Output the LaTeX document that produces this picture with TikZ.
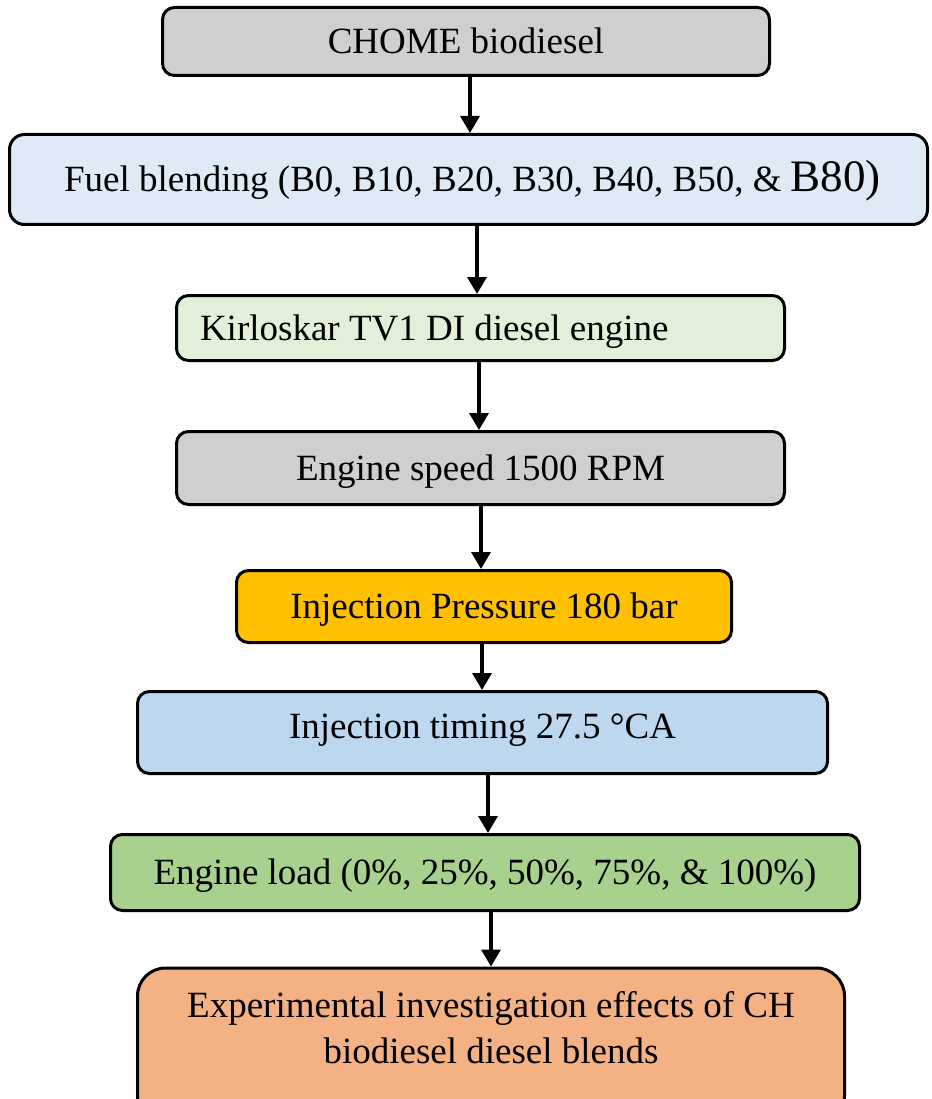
\documentclass[tikz,border=0pt]{standalone}
\usepackage{fontspec}
\setmainfont{Liberation Serif}
\usetikzlibrary{arrows.meta}
\definecolor{greyfill}{HTML}{D0CECE}
\definecolor{paleblue}{HTML}{DEEBF7}
\definecolor{palegreen}{HTML}{E2F0D9}
\definecolor{amber}{HTML}{FFC000}
\definecolor{skyblue}{HTML}{BDD7EE}
\definecolor{leafgreen}{HTML}{A9D18E}
\definecolor{salmon}{HTML}{F4B183}
\begin{document}
\begin{tikzpicture}[x=1pt,y=-1pt,
  box/.style={draw=black, line width=3pt, rounded corners=12pt,
    inner xsep=0pt, inner ysep=0pt, text depth=0pt, text height=24.5pt,
    font=\fontsize{37}{46}\selectfont},
  arr/.style={line width=3.5pt, -{Triangle[length=17pt,width=19pt]}}]
\useasboundingbox (0,0) rectangle (931,1099);
\clip (0,0) rectangle (931,1099);

% process steps, top to bottom
\node[box, fill=greyfill, minimum width=607pt, minimum height=68pt]
  (chome) at (466,41.5) {CHOME biodiesel};
\node[box, fill=paleblue, rounded corners=15pt, minimum width=918pt,
  minimum height=90pt] (blend) at (468.5,179.5)
  {\hspace*{8pt}Fuel blending (B0, B10, B20, B30, B40, B50, \& {\fontsize{45}{46}\selectfont B80)}};
\node[box, fill=palegreen, minimum width=608pt, minimum height=65pt,
  inner xsep=23.25pt] (engine) at (480.5,328)
  {\makebox[561pt][l]{Kirloskar TV1 DI diesel engine}};
\node[box, fill=greyfill, minimum width=608pt, minimum height=73pt]
  (speed) at (480.5,468) {Engine speed 1500 RPM};
\node[box, fill=amber, minimum width=495pt, minimum height=72pt]
  (pressure) at (484,606.5) {Injection Pressure 180 bar};
\node[box, fill=skyblue, minimum width=690pt, minimum height=82pt,
  text height=11pt] (timing) at (482.5,732.5) {Injection timing 27.5 °CA};
\node[box, fill=leafgreen, minimum width=749pt, minimum height=76pt]
  (load) at (485,872.5) {Engine load (0\%, 25\%, 50\%, 75\%, \& 100\%)};
\node[box, fill=salmon, rounded corners=28pt, anchor=north,
  minimum width=707pt, align=center, text height=95.5pt,
  text depth=60pt] (result) at (491,966.5)
  {Experimental investigation effects of CH\\biodiesel diesel blends};

% arrow columns
\coordinate (c1) at (470,0);
\coordinate (c2) at (477,0);
\coordinate (c3) at (479,0);
\coordinate (c4) at (481,0);
\coordinate (c5) at (482,0);
\coordinate (c6) at (488,0);
\coordinate (c7) at (491,0);

\draw[arr] (chome.south -| c1) -- (blend.north -| c1);
\draw[arr] (blend.south -| c2) -- (engine.north -| c2);
\draw[arr] (engine.south -| c3) -- (speed.north -| c3);
\draw[arr] (speed.south -| c4) -- (pressure.north -| c4);
\draw[arr] (pressure.south -| c5) -- (timing.north -| c5);
\draw[arr] (timing.south -| c6) -- (load.north -| c6);
\draw[arr] (load.south -| c7) -- (result.north -| c7);
\end{tikzpicture}
\end{document}
